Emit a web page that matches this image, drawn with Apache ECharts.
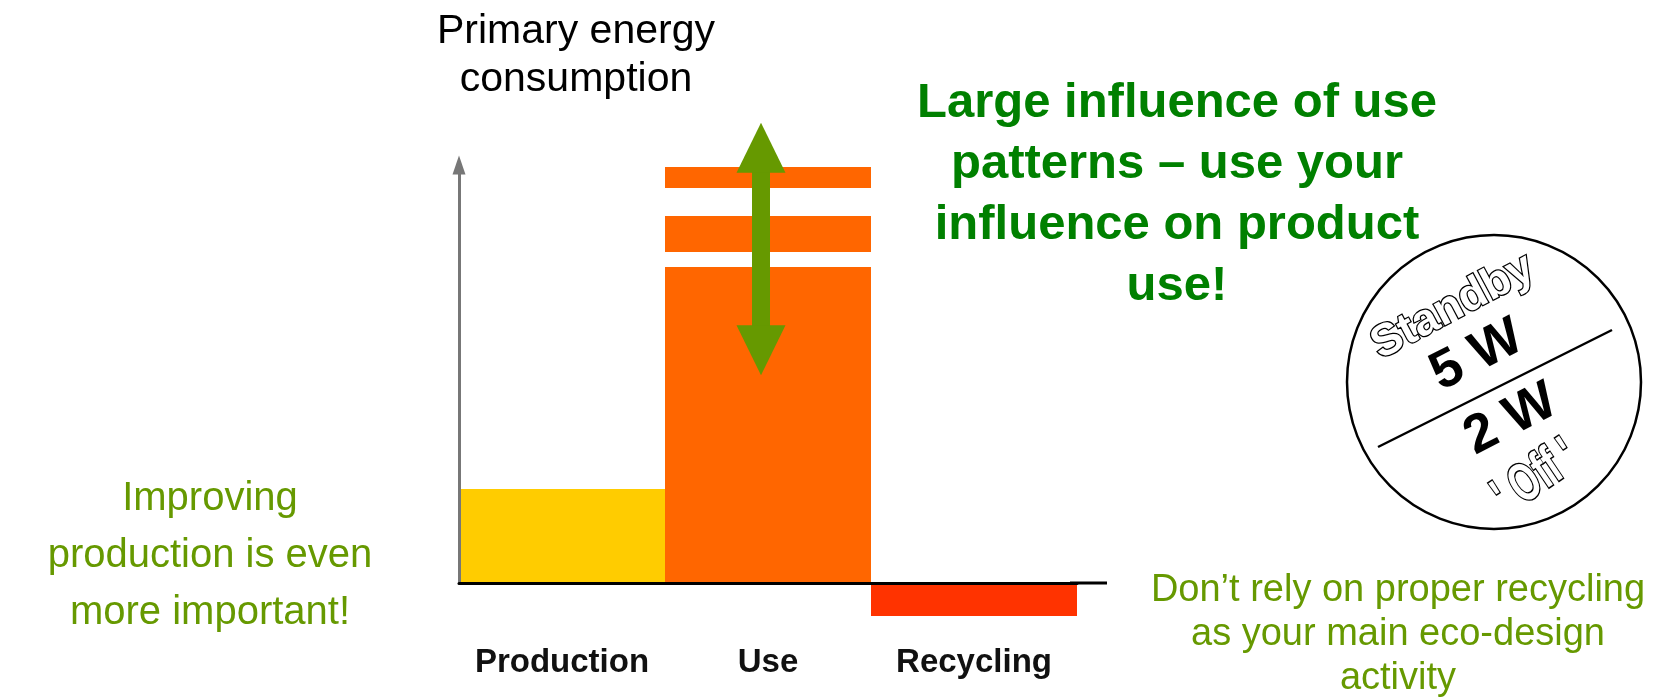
<!DOCTYPE html>
<html>
<head>
<meta charset="utf-8">
<script src="https://cdn.jsdelivr.net/npm/echarts@6/dist/echarts.min.js"></script>
<style>
html,body{margin:0;padding:0;background:#fff;}
#main{width:1663px;height:697px;}
</style>
</head>
<body>
<div id="main"></div>
<script>
// ---- data (energy units) ----
const categories = ['Production', 'Use', 'Recycling'];
const baseEnergy = [22.5, 75.6, -7.9];
const useGapLower = [null, 3.6, null];
const useBandMiddle = [null, 8.6, null];
const useGapUpper = [null, 6.7, null];
const useBandTop = [null, 5.0, null];
const barColors = ['#FFCC00', '#FF6600', '#FF3300'];
const useArrowRange = [104.1, 55.7];

const FONT = '"Liberation Sans", Arial, sans-serif';
const chart = echarts.init(document.getElementById('main'), null, {renderer: 'canvas'});

function txt(x, y, text, font, fill, opts) {
  opts = opts || {};
  return {
    type: 'text', x: x, y: y, rotation: opts.rotation || 0, z: 100,
    scaleX: opts.scaleX || 1, scaleY: opts.scaleY || 1,
    style: Object.assign({
      text: text, font: font, fill: fill,
      align: 'center', verticalAlign: 'middle',
      textAlign: 'center', textVerticalAlign: 'middle',
      lineHeight: opts.lineHeight
    }, opts.stroke ? {stroke: opts.stroke, lineWidth: opts.lineWidth || 2} : {})
  };
}
const deg = Math.PI / 180;
const PX_PER_UNIT = 4.18;

const option = {
  animation: false,
  backgroundColor: '#fff',
  grid: [
    {left: 459, top: 165, width: 618, height: 418, containLabel: false, outerBoundsMode: 'none'},
    {left: 452, top: 583 - 110 * PX_PER_UNIT, width: 618, height: 110 * PX_PER_UNIT, containLabel: false, outerBoundsMode: 'none'}
  ],
  xAxis: [{
    type: 'category',
    data: categories,
    z: 10,
    axisLine: {show: true, onZero: true, lineStyle: {color: '#000', width: 3}},
    axisTick: {show: false},
    axisLabel: {interval: 0, fontSize: 33, fontWeight: 'bold', color: '#111', fontFamily: FONT, margin: 63},
    splitLine: {show: false}
  }, {
    type: 'category', gridIndex: 1, data: categories, show: false
  }],
  yAxis: [{
    type: 'value', min: 0, max: 100,
    z: 10,
    axisLine: {show: true, lineStyle: {color: '#777', width: 3}, symbol: ['none', 'triangle'], symbolSize: [13, 19]},
    axisTick: {show: false},
    axisLabel: {show: false},
    splitLine: {show: false}
  }, {
    type: 'value', gridIndex: 1, min: 0, max: 110, show: false, splitLine: {show: false}
  }],
  series: [
    {
      name: 'base', type: 'bar', stack: 'e', clip: false,
      barCategoryGap: '0%', barWidth: '100%',
      data: baseEnergy.map((v, i) => ({value: v, itemStyle: {color: barColors[i]}}))
    },
    {name: 'gapLower', type: 'bar', stack: 'e', clip: false, data: useGapLower, itemStyle: {color: 'rgba(0,0,0,0)'}},
    {name: 'bandMiddle', type: 'bar', stack: 'e', clip: false, data: useBandMiddle, itemStyle: {color: barColors[1]}},
    {name: 'gapUpper', type: 'bar', stack: 'e', clip: false, data: useGapUpper, itemStyle: {color: 'rgba(0,0,0,0)'}},
    {name: 'bandTop', type: 'bar', stack: 'e', clip: false, data: useBandTop, itemStyle: {color: barColors[1]}},
    {
      name: 'usePatternRange', type: 'line', xAxisIndex: 1, yAxisIndex: 1,
      data: [null, null, null], showSymbol: false, silent: true, z: 8,
      markLine: {
        silent: true, z: 8,
        symbol: ['triangle', 'triangle'],
        symbolSize: [49, 50],
        label: {show: false},
        lineStyle: {color: '#669900', width: 18, type: 'solid'},
        itemStyle: {color: '#669900'},
        emphasis: {disabled: true},
        data: [[{coord: ['Use', useArrowRange[0]]}, {coord: ['Use', useArrowRange[1]]}]]
      }
    }
  ],
  graphic: [
    {type: 'line', z: 10, shape: {x1: 1070, y1: 583, x2: 1107, y2: 583}, style: {stroke: '#000', lineWidth: 3}},
    txt(576, 56, 'Primary energy\nconsumption', '41px ' + FONT, '#000', {lineHeight: 48}),
    txt(1177, 195, 'Large influence of use\npatterns \u2013 use your\ninfluence on product\nuse!', 'bold 49px ' + FONT, '#008000', {lineHeight: 61}),
    txt(210, 556, 'Improving\nproduction is even\nmore important!', '40px ' + FONT, '#669900', {lineHeight: 57}),
    txt(1398, 635, 'Don\u2019t rely on proper recycling\nas your main eco-design\nactivity', '38px ' + FONT, '#669900', {lineHeight: 44}),
    {type: 'circle', z: 50, shape: {cx: 1494, cy: 382, r: 147}, style: {fill: '#fff', stroke: '#000', lineWidth: 2.5}},
    {type: 'line', z: 60, shape: {x1: 1378, y1: 447, x2: 1612, y2: 330}, style: {stroke: '#000', lineWidth: 2.5}},
    txt(1453, 307, 'Standby', 'bold 45px ' + FONT, '#fff', {rotation: 28 * deg, stroke: '#000', lineWidth: 2.5}),
    txt(1477, 356, '5 W', 'bold 54px ' + FONT, '#000', {rotation: 27 * deg}),
    txt(1511, 420, '2 W', 'bold 54px ' + FONT, '#000', {rotation: 27 * deg}),
    txt(1536, 478, "' Off '", 'bold 40px ' + FONT, '#fff', {rotation: 34 * deg, scaleX: 0.9, scaleY: 1.35, stroke: '#000', lineWidth: 2.2})
  ]
};
chart.setOption(option);
</script>
</body>
</html>
